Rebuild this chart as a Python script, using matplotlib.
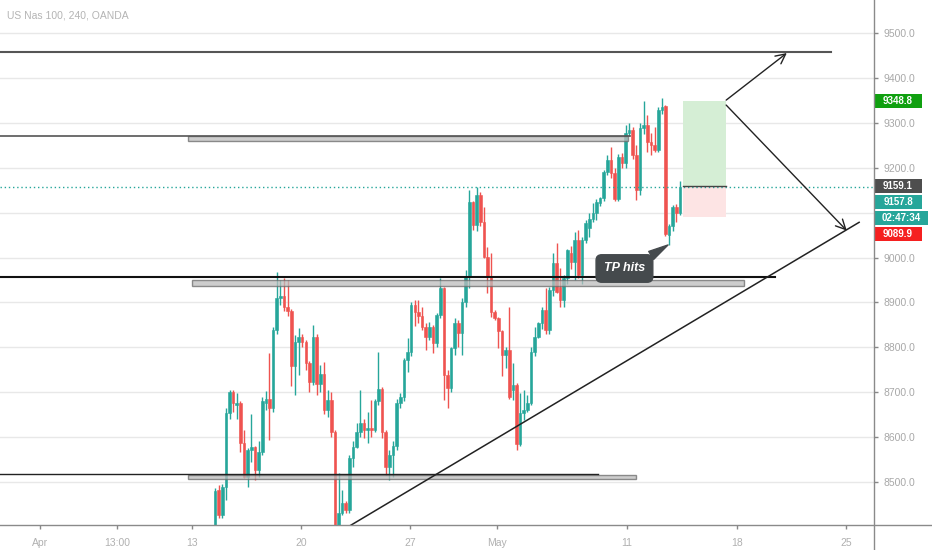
import matplotlib
matplotlib.use("Agg")
import matplotlib.pyplot as plt
from matplotlib.patches import Rectangle
from matplotlib.lines import Line2D
import matplotlib.transforms as mtransforms
import numpy as np

plt.rcParams['font.family'] = ['Liberation Sans', 'DejaVu Sans']

# ---------------- data ----------------
title = "US Nas 100, 240, OANDA"

opens = [8390, 8482, 8425, 8489, 8653, 8701, 8670, 8676, 8586, 8511,
         8571, 8577, 8526, 8567, 8675, 8684, 8664, 8838, 8909, 8915,
         8890, 8880, 8757, 8812, 8823, 8812, 8765, 8723, 8823, 8719,
         8740, 8660, 8682, 8611, 8395, 8430, 8452, 8437, 8553, 8578,
         8611, 8630, 8615, 8620, 8615, 8679, 8706, 8611, 8533, 8560,
         8580, 8675, 8689, 8771, 8790, 8894, 8879, 8870, 8846, 8823,
         8846, 8809, 8872, 8931, 8738, 8708, 8798, 8853, 8831, 8901,
         8957, 9124, 9072, 9139, 9080, 9002, 8957, 8879, 8864, 8835,
         8783, 8794, 8705, 8716, 8585, 8653, 8660, 8676, 8790, 8823,
         8853, 8883, 8838, 8928, 8987, 8935, 8905, 8954, 9010, 8990,
         9039, 8961, 9039, 9065, 9087, 9099, 9122, 9132, 9191, 9217,
         9188, 9130, 9225, 9210, 9277, 9285, 9229, 9151, 9288, 9295,
         9258, 9250, 9240, 9329, 9337, 9050, 9070, 9113, 9100]
highs = [8485, 8492, 8495, 8665, 8705, 8705, 8698, 8680, 8615, 8575,
         8650, 8580, 8590, 8690, 8703, 8786, 8845, 8968, 8950, 8954,
         8950, 8885, 8827, 8842, 8830, 8815, 8770, 8850, 8830, 8760,
         8766, 8704, 8700, 8615, 8519, 8482, 8458, 8560, 8590, 8630,
         8704, 8640, 8656, 8682, 8685, 8790, 8712, 8615, 8570, 8590,
         8685, 8697, 8775, 8820, 8901, 8905, 8905, 8890, 8855, 8857,
         8850, 8876, 8955, 8935, 8750, 8801, 8864, 8860, 8910, 8972,
         9151, 9125, 9158, 9147, 9113, 9024, 9009, 8882, 8868, 8838,
         8800, 8890, 8764, 8720, 8697, 8705, 8693, 8800, 8846, 8857,
         8890, 8931, 8935, 9009, 9032, 8976, 8960, 9020, 9025, 9058,
         9061, 9046, 9084, 9099, 9121, 9130, 9135, 9195, 9229, 9247,
         9200, 9230, 9232, 9296, 9300, 9292, 9250, 9300, 9350, 9318,
         9277, 9292, 9335, 9355, 9340, 9075, 9118, 9120, 9170]
lows = [8380, 8418, 8420, 8460, 8640, 8656, 8640, 8567, 8508, 8489,
        8545, 8504, 8510, 8560, 8660, 8593, 8655, 8830, 8895, 8880,
        8870, 8713, 8693, 8738, 8800, 8750, 8700, 8715, 8693, 8700,
        8650, 8645, 8600, 8380, 8385, 8426, 8430, 8430, 8533, 8575,
        8600, 8598, 8586, 8600, 8610, 8670, 8597, 8515, 8504, 8510,
        8570, 8665, 8680, 8745, 8780, 8848, 8853, 8838, 8794, 8816,
        8787, 8801, 8865, 8682, 8664, 8700, 8783, 8801, 8783, 8890,
        8931, 9061, 9060, 9070, 8998, 8920, 8868, 8860, 8798, 8735,
        8753, 8685, 8682, 8571, 8580, 8638, 8655, 8670, 8780, 8820,
        8840, 8830, 8830, 8915, 8920, 8890, 8890, 8940, 8975, 8950,
        8955, 8942, 9032, 9046, 9080, 9084, 9115, 9125, 9185, 9177,
        9125, 9125, 9199, 9200, 9270, 9220, 9129, 9140, 9275, 9236,
        9229, 9235, 9235, 9320, 9048, 9028, 9060, 9080, 9095]
closes = [8480, 8425, 8489, 8653, 8701, 8676, 8676, 8586, 8511, 8571,
          8577, 8526, 8567, 8679, 8684, 8664, 8838, 8909, 8915, 8890,
          8880, 8757, 8812, 8823, 8812, 8765, 8723, 8823, 8719, 8740,
          8660, 8682, 8611, 8395, 8430, 8452, 8437, 8553, 8578, 8611,
          8630, 8615, 8620, 8615, 8679, 8706, 8611, 8533, 8560, 8580,
          8675, 8689, 8771, 8790, 8894, 8879, 8870, 8846, 8823, 8846,
          8809, 8872, 8931, 8738, 8708, 8798, 8853, 8831, 8901, 8957,
          9124, 9072, 9139, 9080, 9002, 8957, 8879, 8864, 8835, 8783,
          8794, 8689, 8716, 8585, 8653, 8660, 8676, 8790, 8823, 8853,
          8883, 8838, 8928, 8987, 8924, 8905, 8954, 9017, 8990, 9039,
          8961, 9039, 9076, 9087, 9099, 9124, 9132, 9191, 9217, 9188,
          9130, 9225, 9210, 9277, 9285, 9229, 9151, 9288, 9295, 9258,
          9250, 9240, 9329, 9336, 9052, 9070, 9113, 9100, 9158]

price_ticks = [8500, 8600, 8700, 8800, 8900, 9000, 9100, 9200, 9300, 9400, 9500]
hidden_tick = 9100  # covered by the price labels in the original
date_labels = ["Apr", "13:00", "13", "20", "27", "May", "11", "18", "25"]
date_pos = [-48.2, -27.0, -6.3, 23.7, 53.7, 77.6, 113.4, 143.7, 173.7]

# drawings (bar index, price)
top_line = {"y": 9457.7, "x1": 169.6}
res_line = {"y": 9270.9, "x1": 114.2}
res_box = {"x0": -7.4, "x1": 113.7, "y0": 9260.5, "y1": 9271.0}
mid_line = {"y": 8955.9, "x1": 154.1}
mid_box = {"x0": -6.3, "x1": 145.6, "y0": 8936.0, "y1": 8950.0}
low_line = {"y": 8516.5, "x1": 105.4}
low_box = {"x0": -7.4, "x1": 115.9, "y0": 8506.0, "y1": 8515.0}
trend = {"xa": 37.4, "ya": 8403.0, "xb": 177.3, "yb": 9078.5}
arrow_up = {"start": (140.7, 9351.0), "end": (157.4, 9456.0)}
arrow_dn = {"start": (140.7, 9340.0), "end": (173.9, 9060.0)}
position = {"x0": 128.8, "x1": 140.7, "tp": 9348.8, "entry": 9159.1, "sl": 9089.9}
current_label = 9157.8
timer_text = "02:47:34"

# ---------------- figure ----------------
W, H = 932, 550
fig = plt.figure(figsize=(W / 100, H / 100), dpi=100)
fig.patch.set_facecolor("white")
ax_right_px = 874
ax_bottom_px = 525
ax = fig.add_axes([0, (H - ax_bottom_px) / H, ax_right_px / W, ax_bottom_px / H])
ax.set_facecolor("white")

bar_px = 3.633
first_px = 215
ax.set_xlim(-first_px / bar_px, (ax_right_px - first_px) / bar_px)
ppx = 2.2302  # price per pixel
ytop = 9574.3
ax.set_ylim(ytop - ax_bottom_px * ppx, ytop)

# gridlines
for p in price_ticks:
    ax.axhline(p, color="#e8e8e8", lw=1, zorder=0)

# candles
o = np.array(opens, float)
h = np.array(highs, float)
l = np.array(lows, float)
c = np.array(closes, float)
idx = np.arange(len(o))
up = c >= o
cols = np.where(up, "#26a69a", "#ef5350")
ax.vlines(idx, l, h, colors=cols, lw=1, zorder=3)
bottoms = np.minimum(o, c)
heights = np.maximum(np.abs(c - o), 2.5)
ax.bar(idx, heights, bottom=bottoms, width=0.72, color=cols, edgecolor=cols, lw=0.4, zorder=4)

xl = ax.get_xlim()[0]

# horizontal drawings
ax.plot([xl, top_line["x1"]], [top_line["y"]] * 2, color="#555555", lw=1.5, zorder=6)
ax.plot([xl, res_line["x1"]], [res_line["y"]] * 2, color="#555555", lw=1.2, zorder=6)
ax.plot([xl, mid_line["x1"]], [mid_line["y"]] * 2, color="#111111", lw=1.5, zorder=6)
ax.plot([xl, low_line["x1"]], [low_line["y"]] * 2, color="#222222", lw=1.0, zorder=6)
for b in (res_box, mid_box, low_box):
    ax.add_patch(Rectangle((b["x0"], b["y0"]), b["x1"] - b["x0"], b["y1"] - b["y0"],
                           facecolor="#bdbdbd", edgecolor="#6a6a6a", lw=1, alpha=0.75, zorder=5))

# trend line (extended)
slope = (trend["yb"] - trend["ya"]) / (trend["xb"] - trend["xa"])
tx0 = trend["xa"] - 10
ax.plot([tx0, trend["xb"]], [trend["ya"] - 10 * slope, trend["yb"]], color="#222222", lw=1.1, zorder=6)

# position tool
ax.add_patch(Rectangle((position["x0"], position["entry"]), position["x1"] - position["x0"],
                       position["tp"] - position["entry"], facecolor="#d5eed5", lw=0, zorder=2))
ax.add_patch(Rectangle((position["x0"], position["sl"]), position["x1"] - position["x0"],
                       position["entry"] - position["sl"], facecolor="#fde4e4", lw=0, zorder=2))
ax.plot([position["x0"], position["x1"]], [position["entry"]] * 2, color="#444444", lw=1, zorder=6)

# current price dotted line
ax.axhline(closes[-1], color="#26a69a", lw=1, ls=(0, (1, 2)), zorder=5)

# arrows
for a in (arrow_up, arrow_dn):
    ax.annotate("", xy=a["end"], xytext=a["start"],
                arrowprops=dict(arrowstyle="->,head_length=0.7,head_width=0.35",
                                color="#222222", lw=1, shrinkA=0, shrinkB=0), zorder=7)

# TP hits callout
ax.annotate("TP hits", xy=(124.7, 9028), xytext=(112.7, 8975.5),
            ha="center", va="center", color="white", fontsize=9, fontweight="bold",
            fontstyle="italic",
            bbox=dict(boxstyle="round,pad=0.62,rounding_size=0.45", fc="#454a4d", ec="#454a4d"),
            arrowprops=dict(arrowstyle="wedge,tail_width=0.75,shrink_factor=0.5",
                            fc="#454a4d", ec="#454a4d", relpos=(0.85, 0.95),
                            shrinkA=0, shrinkB=0), zorder=8)

# axes styling
for s in ax.spines.values():
    s.set_visible(False)
ax.yaxis.tick_right()
ax.set_yticks(price_ticks)
ax.set_yticklabels(["" if p == hidden_tick else f"{p:.1f}" for p in price_ticks])
ax.tick_params(axis="y", length=3, width=1, color="#888888", labelcolor="#a8a8a8",
               labelsize=7.5, pad=4)
ax.set_xticks(date_pos)
ax.set_xticklabels(date_labels)
ax.tick_params(axis="x", length=3, width=1, color="#888888", labelcolor="#b0b0b0",
               labelsize=7.5, pad=6)

# axis lines extending through the margins
fig.add_artist(Line2D([ax_right_px / W] * 2, [0, 1], color="#8a8a8a", lw=1))
fig.add_artist(Line2D([0, 1], [(H - ax_bottom_px) / H] * 2, color="#8a8a8a", lw=1))

# title
fig.text(7 / W, 1 - 15 / H, title, color="#b4b4b4", fontsize=7.5, va="center", ha="left")

# right price labels
trans = mtransforms.blended_transform_factory(fig.transFigure, ax.transData)
lbl_h = 14 * ppx
labels = [
    (f"{position['tp']:.1f}", position["tp"], "#10a010", 922),
    (f"{position['entry']:.1f}", position["entry"], "#4e4e4e", 922),
    (f"{current_label:.1f}", position["entry"] - 15.5 * ppx, "#26a69a", 922),
    (timer_text, position["entry"] - 31.5 * ppx, "#26a69a", 928),
    (f"{position['sl']:.1f}", position["entry"] - 47.5 * ppx, "#f52020", 922),
]
for txt, yc, col, xend in labels:
    ax.add_artist(Rectangle((ax_right_px / W, yc - lbl_h / 2), (xend - ax_right_px) / W, lbl_h,
                            transform=trans, facecolor=col, edgecolor="none", clip_on=False, zorder=10))
    t = fig.text(((ax_right_px + xend) / 2) / W, 0, txt, transform=trans, ha="center", va="center",
                 color="white", fontsize=7, fontweight="bold", zorder=11)
    t.set_y(yc)

fig.savefig("out.png", dpi=100)
